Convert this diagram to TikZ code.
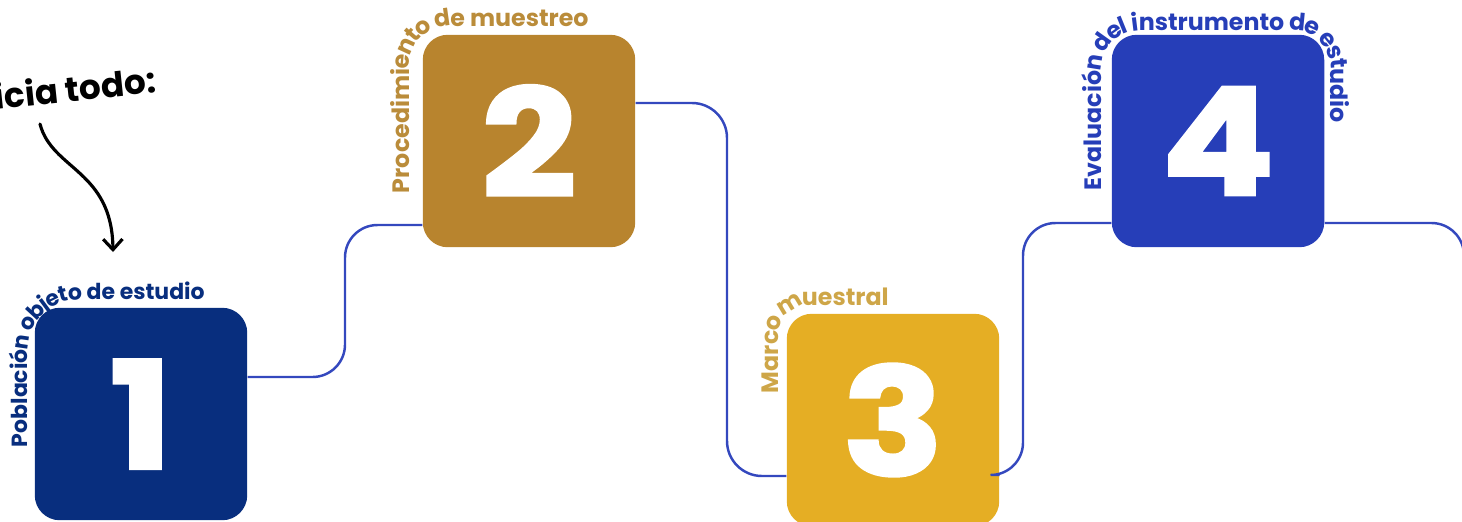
\documentclass[tikz,border=0pt]{standalone}
\usepackage{fontspec}
\setmainfont{Poppins}
\newfontfamily\numfont{Poppins}[FakeStretch=1.12, BoldFeatures={FakeBold=2}]
\usetikzlibrary{arrows.meta,decorations.text}
\definecolor{pobla}{RGB}{8,46,126}
\definecolor{proce}{RGB}{184,132,46}
\definecolor{marco}{RGB}{229,174,36}
\definecolor{evalu}{RGB}{38,62,184}
\definecolor{linea}{RGB}{52,72,190}
\definecolor{proceT}{RGB}{186,140,58}
\definecolor{marcoT}{RGB}{206,166,72}
\newcommand{\labfont}{\bfseries\fontsize{13.5}{16}\selectfont}
\newcommand{\labfontA}{\bfseries\fontsize{12.5}{14}\selectfont}

\begin{document}
\begin{tikzpicture}[x=0.02cm,y=-0.02cm]
				\useasboundingbox (0,0) rectangle (1462,521);
				\clip (0,0) rectangle (1462,521);
				\coordinate (a1) at (141,414);
				\coordinate (a2) at (529,141);
				\coordinate (a3) at (893,420);
				\coordinate (a4) at (1218,141);
				\coordinate (b0) at (40,124);
				\coordinate (b1) at (113,252);
				%
				\foreach \i/\c in {1/pobla,2/proce,3/marco,4/evalu}
				\node[fill=\c, rounded corners=0.5cm, minimum size=4.25cm, inner sep=0pt, text=white,
					font=\numfont\bfseries\fontsize{85}{85}\selectfont] (e\i) at (a\i) {\i};
				%
				\draw[linea, line width=1.4pt, rounded corners=0.65cm] (e1.east |- 0,377) -- (345,377) -- (345,225) -- (e2.west |- 0,225);
				\draw[linea, line width=1.4pt, rounded corners=0.7cm] (e2.east |- 0,103) -- (727,103) -- (727,476) -- (e3.west |- 0,476);
				\draw[linea, line width=1.4pt, rounded corners=0.65cm] (e3.east |- 0,475) -- (1023,475) -- (1023,223) -- (e4.west |- 0,223);
				\draw[linea, line width=1.4pt, rounded corners=0.65cm] (e4.east |- 0,223) -- (1464,223) -- (1464,530);
				%
				\path[decorate, decoration={text along path, raise=-3.4pt, text color=pobla, text={|\labfontA|Población objeto de estudio}}]
					(22,447) -- (22,350) arc[start angle=180, end angle=270, radius=56] -- (300,294);
				\path[decorate, decoration={text along path, raise=-3.6pt, text color=proceT, text={|\labfont|Procedimiento de muestreo}}]
					(403,193) -- (403,66) arc[start angle=180, end angle=270, radius=46] -- (700,20);
				\path[decorate, decoration={text along path, raise=-3.6pt, text color=marcoT, text={|\labfont|Marco muestral}}]
					(772,393) -- (772,337) arc[start angle=180, end angle=270, radius=38] -- (980,299);
				\path[decorate, decoration={text along path, raise=-3.6pt, text color=evalu, text={|\labfont|Evaluación del instrumento de estudio}}]
					(1095,190) -- (1095,70) arc[start angle=180, end angle=270, radius=46] -- (1293,24)
					arc[start angle=270, end angle=360, radius=44] -- (1337,260);
				%
				\node[rotate=6, anchor=base east, font=\bfseries\fontsize{19.5}{19.5}\selectfont] (ini) at (163,92) {Inicia todo:};
				\draw[line width=1.8pt, line cap=round, -{Straight Barb[length=6pt,width=11pt]}] (b0) .. controls (52,170) and (112,170) .. (b1);
			\end{tikzpicture}
\end{document}
